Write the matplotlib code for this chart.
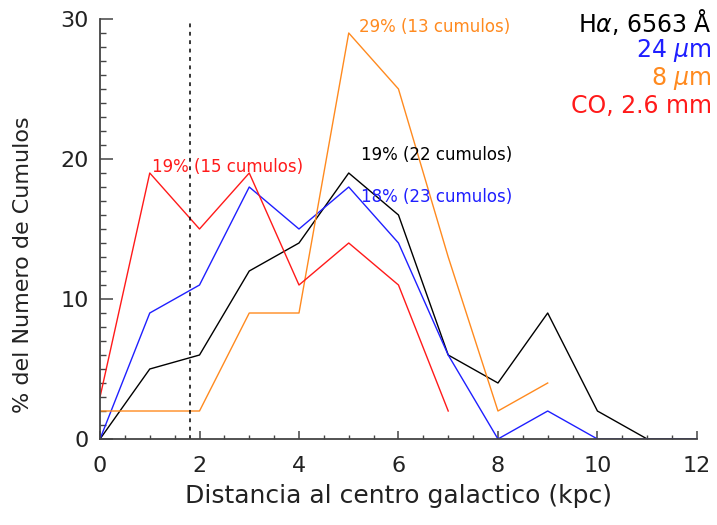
import numpy as np
import matplotlib.pyplot as plt
from matplotlib.ticker import MultipleLocator

# distancia al centro galactico (kpc), bins de 1 kpc
dist = np.arange(0, 13)

# % del numero de cumulos por bin
halpha = [0, 5, 6, 12, 14, 19, 16, 6, 4, 9, 2, 0, 0]
mips24 = [0, 9, 11, 18, 15, 18, 14, 6, 0, 2, 0, 0, 0]
irac8 = [2, 2, 2, 9, 9, 29, 25, 13, 2, 4]
co = [3, 19, 15, 19, 11, 14, 11, 2]

r_limite = 1.8

c_ha = 'black'
c_24 = '#1f1fff'
c_8 = '#ff8a1f'
c_co = '#ff1a1a'

plt.rcParams['font.family'] = 'DejaVu Sans'

fig = plt.figure(figsize=(7.17, 5.25), dpi=100)
ax = fig.add_axes([0.1395, 0.1638, 0.8325, 0.8])

ax.plot(dist[:len(halpha)], halpha, color=c_ha, lw=1.0)
ax.plot(dist[:len(mips24)], mips24, color=c_24, lw=1.0)
ax.plot(dist[:len(irac8)], irac8, color=c_8, lw=1.0)
ax.plot(dist[:len(co)], co, color=c_co, lw=1.0)

ax.plot([r_limite, r_limite], [0, 30], color='black', lw=1.1,
        linestyle=(0, (2.5, 3)))

# porcentaje en el pico de cada distribucion
ax.text(1.05, 19.05, '19% (15 cumulos)', color=c_co, fontsize=12, va='baseline')
ax.text(5.21, 29.05, '29% (13 cumulos)', color=c_8, fontsize=12, va='baseline')
ax.text(5.24, 19.95, '19% (22 cumulos)', color=c_ha, fontsize=12, va='baseline')
ax.text(5.24, 16.95, '18% (23 cumulos)', color=c_24, fontsize=12, va='baseline')

# leyenda a mano, alineada a la derecha
leyenda = [(r'H$\alpha$, 6563 $\mathrm{\AA}$', c_ha),
           (r'24 $\mu$m', c_24),
           (r'8 $\mu$m', c_8),
           ('CO, 2.6 mm', c_co)]
for i, (txt, col) in enumerate(leyenda):
    fig.text(0.993, 1 - (22 + 28 * i) / 525, txt, color=col, fontsize=17,
             ha='right', va='center')

ax.set_xlim(0, 12)
ax.set_ylim(0, 30)
ax.xaxis.set_major_locator(MultipleLocator(2))
ax.xaxis.set_minor_locator(MultipleLocator(0.5))
ax.yaxis.set_major_locator(MultipleLocator(10))
ax.yaxis.set_minor_locator(MultipleLocator(1))

for s in ['top', 'right']:
    ax.spines[s].set_visible(False)
for s in ['left', 'bottom']:
    ax.spines[s].set_color('#444444')
    ax.spines[s].set_linewidth(1.3)

ax.tick_params(axis='x', which='major', direction='in', length=6, width=1.1,
               color='#444444', labelsize=16, pad=12, labelcolor='#222222')
ax.tick_params(axis='x', which='minor', direction='in', length=3, width=1.0,
               color='#444444')
ax.tick_params(axis='y', which='major', direction='in', length=9, width=1.1,
               color='#444444', labelsize=16, pad=8, labelcolor='#222222')
ax.tick_params(axis='y', which='minor', direction='in', length=4.5, width=1.0,
               color='#444444')

ax.set_xlabel('Distancia al centro galactico (kpc)', fontsize=18,
              color='#222222', labelpad=6)
ax.set_ylabel('% del Numero de Cumulos', fontsize=16, color='#222222')
ax.yaxis.set_label_coords(-0.112, 0.415)

fig.savefig('out.png', dpi=100)
